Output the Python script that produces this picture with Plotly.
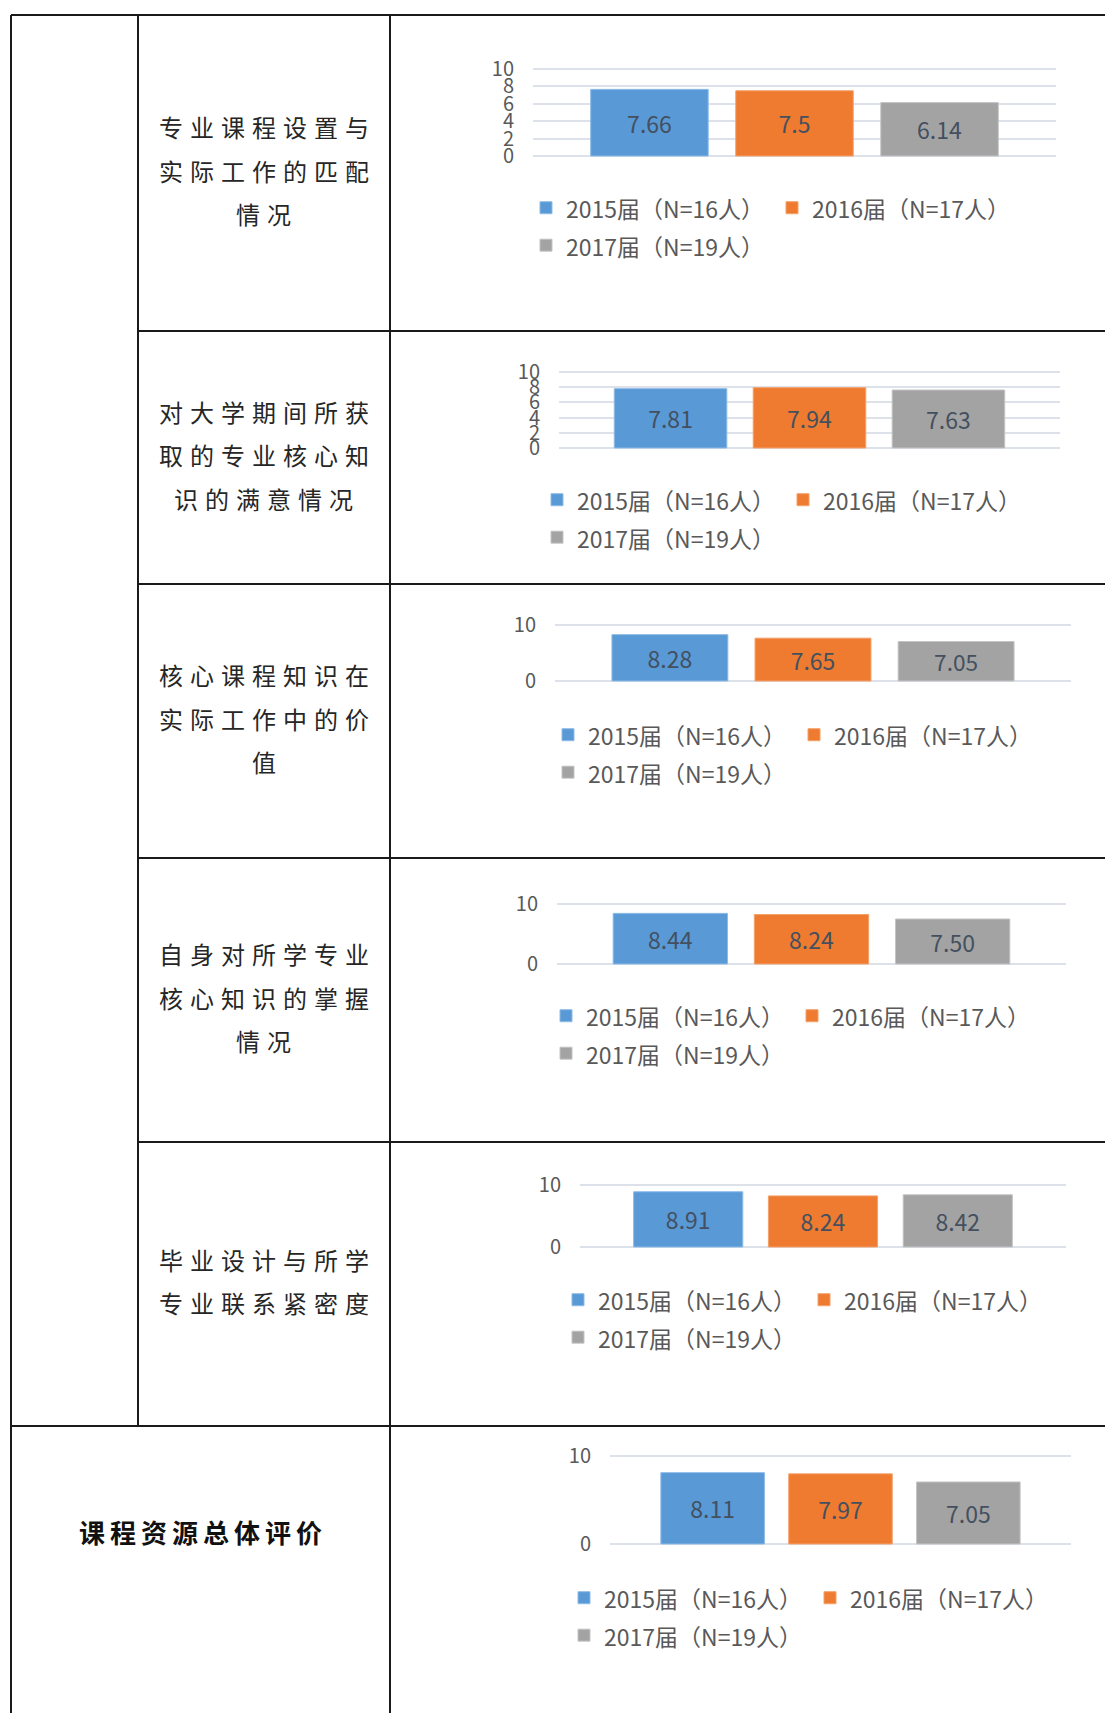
import plotly.graph_objects as go

# ---------------- data ----------------
categories = [
    "专业课程设置与实际工作的匹配情况",
    "对大学期间所获取的专业核心知识的满意情况",
    "核心课程知识在实际工作中的价值",
    "自身对所学专业核心知识的掌握情况",
    "毕业设计与所学专业联系紧密度",
    "课程资源总体评价",
]
series_names = ["2015届（N=16人）", "2016届（N=17人）", "2017届（N=19人）"]
scores_2015 = [7.66, 7.81, 8.28, 8.44, 8.91, 8.11]
scores_2016 = [7.5, 7.94, 7.65, 8.24, 8.24, 7.97]
scores_2017 = [6.14, 7.63, 7.05, 7.50, 8.42, 7.05]
tick_steps = [2, 2, 10, 10, 10, 10]
label_formats = ["%{y}", "%{y}", "%{y}", "%{y:.2f}", "%{y}", "%{y}"]
axis_max = 10

# ---------------- geometry / style ----------------
W, H = 1105, 1713
ML = 520
PW = W - ML
FONT = "Noto Sans CJK SC"
PAD = 5  # px of breathing room so the 0 / 10 grid lines are kept


def px(x):
    return (x - ML) / PW


def py(y):
    return 1 - y / H


plot_boxes = [(533, 1056, 69, 156), (559, 1060, 372, 448), (555, 1071, 625, 681),
              (557, 1066, 904, 964), (580, 1066, 1185, 1247), (610, 1071, 1456, 1544)]
legend_pos = [(540, 207), (551, 499), (562, 734), (560, 1015), (572, 1299), (578, 1597)]
bar_colors = ["#5899d6", "#ee7b30", "#a3a3a3"]
bar_edges = ["#8dbbe6", "#f4a06a", "#c4c4c4"]
all_series = [scores_2015, scores_2016, scores_2017]

fig = go.Figure()
layout = dict(
    width=W, height=H, autosize=False,
    margin=dict(l=ML, r=0, t=0, b=0, pad=0, autoexpand=False),
    paper_bgcolor="white", plot_bgcolor="white",
    bargap=0.168, bargroupgap=0.19, barmode="group",
    font=dict(family=FONT, color="#595959"),
)

for i, cat in enumerate(categories):
    xa = "x" if i == 0 else f"x{i + 1}"
    ya = "y" if i == 0 else f"y{i + 1}"
    lg = "legend" if i == 0 else f"legend{i + 1}"
    for s, vals in enumerate(all_series):
        fig.add_trace(go.Bar(
            x=[cat], y=[vals[i]],
            name=f'<span style="font-size:23px">{series_names[s]}</span>',
            xaxis=xa, yaxis=ya, legend=lg,
            marker=dict(color=bar_colors[s], line=dict(color=bar_edges[s], width=1)),
            texttemplate=label_formats[i], textposition="inside",
            insidetextanchor="middle",
            textfont=dict(family=FONT, size=23, color="#44505f"),
            hoverinfo="skip",
        ))
    x0, x1, y0, y1 = plot_boxes[i]
    unit = axis_max / (y1 - y0)  # data units per pixel
    xk = "xaxis" if i == 0 else f"xaxis{i + 1}"
    yk = "yaxis" if i == 0 else f"yaxis{i + 1}"
    layout[xk] = dict(domain=[px(x0), px(x1)], anchor=ya, showticklabels=False,
                      showgrid=False, zeroline=False, showline=False,
                      fixedrange=True, automargin=False)
    layout[yk] = dict(domain=[py(y1 + PAD), py(y0 - PAD)], anchor=xa,
                      range=[-PAD * unit, axis_max + PAD * unit],
                      tick0=0, dtick=tick_steps[i], showgrid=True,
                      gridcolor="#dde2ea", gridwidth=1.5, zeroline=False,
                      showline=False, ticks="", ticklabelstandoff=18,
                      tickfont=dict(family=FONT, size=20, color="#595959"),
                      fixedrange=True, automargin=False)
    mx, ry = legend_pos[i]
    layout[lg] = dict(orientation="h", x=px(mx - 14), y=py(ry - 23),
                      xanchor="left", yanchor="top", entrywidth=201,
                      entrywidthmode="pixels", traceorder="normal",
                      font=dict(family=FONT, size=26.5, color="#595959"),
                      bgcolor="rgba(0,0,0,0)", borderwidth=0)

fig.update_layout(**layout)

# ---------------- table lines ----------------
line_style = dict(color="#1a1a1a", width=2)


def hline(y, xa, xb):
    fig.add_shape(type="line", xref="paper", yref="paper",
                  x0=px(xa), x1=px(xb), y0=py(y), y1=py(y), line=line_style)


def vline(x, ya, yb):
    fig.add_shape(type="line", xref="paper", yref="paper",
                  x0=px(x), x1=px(x), y0=py(ya), y1=py(yb), line=line_style)


hline(15, 11, W)
for yy in [331, 584, 858, 1142]:
    hline(yy, 138, W)
hline(1426, 11, W)
vline(11, 15, H)
vline(138, 15, 1426)
vline(390, 15, H)

# ---------------- row labels ----------------
row_centers = [170, 454.5, 718, 997, 1281]
pitch = 43.5
for i in range(5):
    text = categories[i]
    lines = [text[k:k + 7] for k in range(0, len(text), 7)]
    n = len(lines)
    for k, ln in enumerate(lines):
        yy = row_centers[i] + (k - (n - 1) / 2) * pitch
        fig.add_annotation(
            xref="paper", yref="paper", x=px(267), y=py(yy),
            text=f'<span style="letter-spacing:7px">{ln}</span>',
            showarrow=False, xanchor="center", yanchor="middle",
            font=dict(family=FONT, size=24, color="#262626"))

fig.add_annotation(
    xref="paper", yref="paper", x=px(203), y=py(1531),
    text=f'<span style="letter-spacing:5px"><b>{categories[5]}</b></span>',
    showarrow=False, xanchor="center", yanchor="middle",
    font=dict(family=FONT, size=26, color="#111111"))

fig.write_html("out.html", config={"displayModeBar": False},
               post_script="document.body.style.margin='0';")
